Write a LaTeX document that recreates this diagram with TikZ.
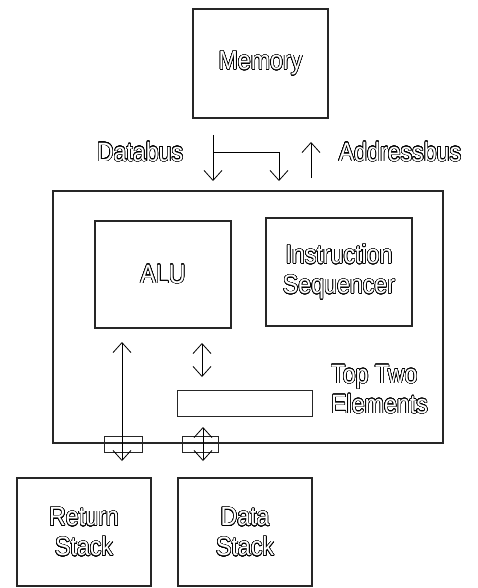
\documentclass[tikz,border=0pt]{standalone}
\usepackage{fontspec}
\usepackage{contour}
\usetikzlibrary{arrows.meta}
\newfontfamily\labfont[FakeStretch=0.875]{Liberation Sans}
\contourlength{0.55pt}
\contournumber{32}
\newcommand{\outl}[1]{{\color{white}\contour{black}{#1}}}
\tikzset{
  box/.style={draw=black!85, line width=1.1pt, rectangle, inner sep=0pt},
  lab/.style={font=\labfont\fontsize{26.5}{30}\selectfont, inner sep=0pt},
  conn/.style={line width=0.8pt, black},
  tip/.style={-{Straight Barb[length=10pt,width=18pt,line width=0.8pt]}},
  dtip/.style={{Straight Barb[length=10pt,width=18pt,line width=0.8pt]}-{Straight Barb[length=10pt,width=18pt,line width=0.8pt]}}
}
\begin{document}
\begin{tikzpicture}[x=1pt,y=-1pt]
\useasboundingbox (0,0) rectangle (478,588);
% boxes
\node[box, minimum width=135pt, minimum height=109pt] (mem) at (260.5,63.5) {};
\node[lab] (memt) at (mem.center) {\outl{Memory}};
\node[box, minimum width=390pt, minimum height=252pt] (cpu) at (248,317) {};
\node[box, minimum width=136pt, minimum height=107pt] (alu) at (163,274.5) {};
\node[lab] (alut) at (alu.center) {\outl{ALU}};
\node[box, minimum width=146pt, minimum height=108pt] (seq) at (339,272) {};
\node[lab, align=center] (seqt) at (seq.center) {\outl{Instruction}\\\outl{Sequencer}};
\node[box, line width=0.9pt, minimum width=135pt, minimum height=26pt] (reg) at (244.5,403) {};
\node[lab, align=left, anchor=north west] (regt) at (331,365) {\outl{Top Two}\\\outl{Elements}};
\node[box, line width=0.9pt, minimum width=38pt, minimum height=16pt] (p1) at (123,444) {};
\node[box, line width=0.9pt, minimum width=36pt, minimum height=16pt] (p2) at (200,444) {};
\node[box, minimum width=134pt, minimum height=108pt] (rs) at (84,532) {};
\node[lab, align=center] (rst) at (rs.center) {\outl{Return}\\\outl{Stack}};
\node[box, minimum width=134pt, minimum height=108pt] (ds) at (245,532) {};
\node[lab, align=center] (dst) at (ds.center) {\outl{Data}\\\outl{Stack}};
% labels
\node[lab] (db) at (140,152) {\outl{Databus}};
\node[lab] (ab) at (400,152) {\outl{Addressbus}};
% bus coordinates
\coordinate (d1) at (213,135);
\coordinate (d1e) at (213,181);
\coordinate (dj) at (213,152);
\coordinate (d2) at (279,152);
\coordinate (d2e) at (279,181);
\coordinate (a1) at (311,178);
\coordinate (a1e) at (311,142);
\draw[conn, tip] (d1) -- (d1e);
\draw[conn] (dj) -- (d2);
\draw[conn, tip] (d2) -- (d2e);
\draw[conn, tip] (a1) -- (a1e);
% internal arrows
\coordinate (r1) at (122,342);
\coordinate (r2) at (122,461);
\draw[conn, dtip] (r1) -- (r2);
\coordinate (t1) at (202,343);
\coordinate (t2) at (202,377);
\draw[conn, dtip] (t1) -- (t2);
\coordinate (s1) at (203,427);
\coordinate (s2) at (203,461);
\draw[conn, dtip] (s1) -- (s2);
\end{tikzpicture}
\end{document}
